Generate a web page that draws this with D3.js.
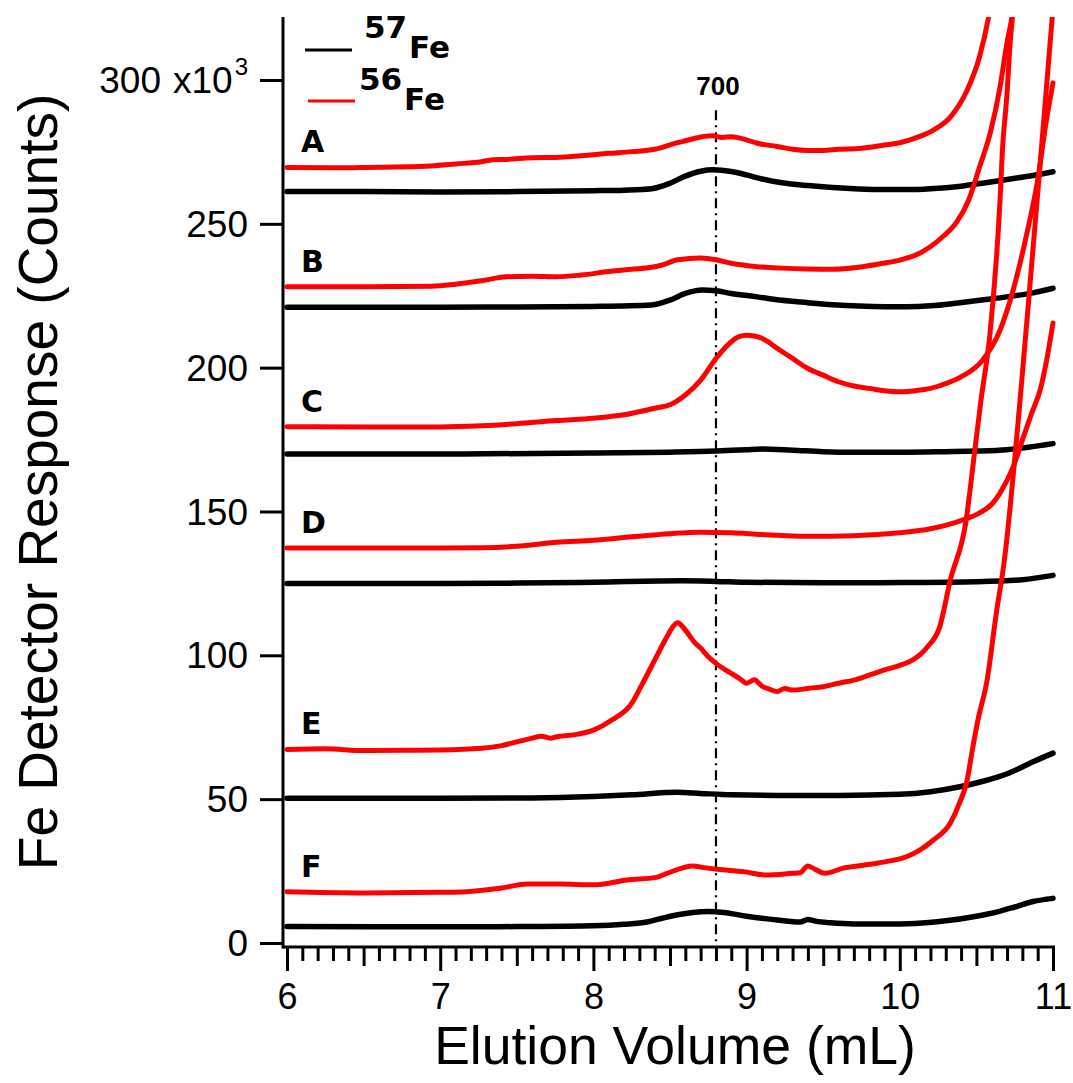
<!DOCTYPE html>
<html>
<head>
<meta charset="utf-8">
<script src="https://cdn.jsdelivr.net/npm/d3@7"></script>
<style>
  html, body { margin: 0; padding: 0; background: #fff; }
  svg { display: block; }
  text { font-family: "Liberation Sans", Arial, Helvetica, sans-serif; fill: #000; }
</style>
</head>
<body>
<svg id="chart" width="1073" height="1083"></svg>
<script>
// Fe chromatograms: elution volume (mL) vs detector counts (x10^3), six samples A–F
const sampleLabels = ["A", "B", "C", "D", "E", "F"];

const a57 = [[6.0,261.2],[6.5,261.2],[7.0,261.1],[7.5,261.2],[8.0,261.5],[8.2,261.7],[8.38,262.2],[8.5,264.1],[8.6,266.6],[8.7,268.3],[8.78,268.8],[8.9,268.2],[9.0,267.0],[9.1,265.6],[9.23,264.3],[9.4,263.3],[9.56,262.6],[9.73,262.1],[9.9,261.9],[10.05,261.9],[10.2,262.2],[10.4,263.1],[10.55,264.2],[10.71,265.5],[10.87,266.8],[11.0,268.1]];
const a56 = [[6.0,269.6],[6.3,269.5],[6.6,269.7],[6.8,269.8],[6.94,270.1],[7.1,270.8],[7.27,271.6],[7.35,272.3],[7.43,272.4],[7.6,273.0],[7.76,273.1],[7.92,273.7],[8.1,274.5],[8.25,275.1],[8.4,275.9],[8.45,276.6],[8.52,277.8],[8.58,278.6],[8.64,279.4],[8.72,280.4],[8.78,280.6],[8.84,280.0],[8.9,280.3],[9.0,279.2],[9.07,278.0],[9.2,276.9],[9.3,275.9],[9.4,275.5],[9.5,275.5],[9.6,275.9],[9.73,276.2],[9.9,277.4],[10.0,278.2],[10.1,279.8],[10.22,282.6],[10.33,287.1],[10.44,296.5],[10.52,308.0],[10.58,322.0],[10.62,335.0]];

const b57 = [[6.0,221.0],[7.0,221.0],[7.5,221.1],[8.0,221.3],[8.38,221.8],[8.5,223.5],[8.6,225.8],[8.71,227.0],[8.8,226.7],[8.9,225.8],[9.07,224.6],[9.23,223.4],[9.4,222.6],[9.56,221.9],[9.73,221.4],[9.9,221.2],[10.05,221.2],[10.2,221.5],[10.38,222.5],[10.55,223.6],[10.71,224.7],[10.87,226.0],[11.0,227.6]];
const b56 = [[6.0,228.1],[6.5,228.1],[6.94,228.3],[7.1,229.0],[7.27,230.2],[7.43,231.6],[7.6,231.8],[7.76,231.6],[7.92,232.2],[8.1,233.4],[8.25,234.2],[8.38,234.9],[8.45,235.7],[8.55,237.5],[8.7,238.1],[8.8,237.5],[8.9,236.3],[9.07,235.1],[9.23,234.6],[9.4,234.3],[9.56,234.2],[9.73,234.9],[9.89,236.3],[10.0,237.4],[10.13,239.8],[10.28,245.5],[10.37,250.5],[10.45,258.3],[10.52,269.7],[10.59,281.5],[10.654,297.5],[10.70,313.0],[10.732,322.0],[10.76,335.0]];

const c57 = [[6.0,170.0],[7.0,170.0],[8.0,170.3],[8.5,170.6],[8.8,171.0],[9.0,171.5],[9.1,171.7],[9.3,171.3],[9.5,170.8],[9.7,170.6],[10.0,170.6],[10.3,170.8],[10.5,171.0],[10.7,171.5],[10.85,172.4],[11.0,173.6]];
const c56 = [[6.0,179.5],[6.5,179.4],[7.0,179.4],[7.27,179.8],[7.5,180.5],[7.76,181.6],[8.0,182.4],[8.2,183.6],[8.4,185.9],[8.5,187.1],[8.6,190.5],[8.7,195.7],[8.8,203.2],[8.9,209.0],[8.95,210.8],[9.0,211.3],[9.05,211.0],[9.1,210.2],[9.2,206.7],[9.3,203.2],[9.4,199.7],[9.5,197.4],[9.6,195.1],[9.7,193.6],[9.8,192.8],[9.9,192.0],[10.0,191.6],[10.1,192.0],[10.2,192.8],[10.3,194.5],[10.4,196.8],[10.54,202.6],[10.654,213.0],[10.74,227.0],[10.83,246.8],[10.896,264.0],[10.96,287.0],[11.0,299.0]];

const d57 = [[6.0,125.0],[7.0,125.0],[7.5,125.1],[8.0,125.4],[8.58,125.9],[8.8,125.7],[9.0,125.4],[9.5,125.2],[10.0,125.3],[10.5,125.6],[10.8,126.3],[11.0,127.8]];
const d56 = [[6.0,137.3],[6.5,137.3],[7.0,137.3],[7.27,137.4],[7.5,137.9],[7.76,139.3],[8.0,140.0],[8.25,141.2],[8.5,142.3],[8.7,142.8],[8.9,142.6],[9.1,142.0],[9.4,141.4],[9.7,141.6],[10.0,142.6],[10.2,144.0],[10.37,146.3],[10.52,149.5],[10.6,152.5],[10.654,156.4],[10.74,165.5],[10.80,174.8],[10.86,184.0],[10.92,193.0],[10.96,203.0],[11.0,215.5]];

const e57 = [[6.0,50.3],[7.0,50.3],[7.6,50.4],[8.0,50.9],[8.25,51.5],[8.55,52.4],[8.7,52.0],[8.9,51.5],[9.2,51.3],[9.6,51.3],[10.0,51.7],[10.2,52.6],[10.4,54.4],[10.55,56.3],[10.71,59.0],[10.87,63.0],[11.0,66.0]];
const e56 = [[6.0,67.3],[6.25,67.5],[6.5,66.9],[6.75,67.0],[7.0,67.1],[7.27,67.7],[7.4,68.6],[7.5,69.9],[7.6,71.2],[7.66,71.9],[7.72,71.2],[7.76,71.7],[7.9,72.6],[8.0,74.0],[8.12,77.5],[8.25,83.3],[8.31,89.1],[8.4,98.3],[8.47,105.5],[8.52,110.0],[8.55,111.3],[8.6,108.8],[8.66,104.5],[8.7,102.5],[8.75,99.5],[8.8,97.2],[8.9,93.7],[8.95,92.1],[9.0,90.3],[9.05,91.5],[9.1,89.3],[9.15,88.2],[9.2,87.4],[9.25,88.5],[9.3,87.9],[9.4,88.5],[9.5,89.1],[9.6,90.3],[9.7,91.4],[9.8,93.1],[9.9,94.9],[10.0,96.5],[10.085,98.4],[10.18,102.9],[10.26,109.8],[10.33,126.2],[10.43,146.0],[10.49,171.4],[10.53,188.7],[10.589,212.0],[10.654,258.0],[10.67,275.6],[10.70,295.4],[10.72,312.8],[10.735,322.0],[10.75,335.0]];

const f57 = [[6.0,5.7],[7.0,5.6],[7.5,5.7],[8.0,6.0],[8.2,6.5],[8.35,7.3],[8.45,8.6],[8.55,9.8],[8.65,10.6],[8.75,10.9],[8.85,10.6],[9.0,9.3],[9.2,8.0],[9.35,7.3],[9.4,8.2],[9.45,7.6],[9.55,7.0],[9.7,6.6],[9.9,6.6],[10.1,6.8],[10.3,7.7],[10.5,9.3],[10.65,11.0],[10.75,12.5],[10.87,14.4],[11.0,15.5]];
const f56 = [[6.0,17.8],[6.5,17.4],[7.0,17.6],[7.17,17.8],[7.39,19.0],[7.57,20.5],[7.78,20.5],[8.0,20.2],[8.22,21.9],[8.41,22.8],[8.48,24.2],[8.65,26.8],[8.72,26.2],[8.81,25.6],[8.98,24.8],[9.13,23.6],[9.3,24.2],[9.35,24.4],[9.4,26.8],[9.45,25.5],[9.51,24.2],[9.63,26.0],[9.85,27.7],[10.07,30.6],[10.13,32.3],[10.22,35.8],[10.33,41.7],[10.39,48.7],[10.44,56.7],[10.47,66.0],[10.51,77.5],[10.57,91.4],[10.63,114.7],[10.68,132.0],[10.785,188.7],[10.85,229.0],[10.915,270.0],[11.0,325.0]];

const iron57 = [a57, b57, c57, d57, e57, f57];
const iron56 = [a56, b56, c56, d56, e56, f56];

const xMajorTicks = [6, 7, 8, 9, 10, 11];
const yTicks = [0, 50, 100, 150, 200, 250, 300];
const markerVolume = 8.8;
const markerLabel = "700";
const markerTop = 289.5;

const svg = d3.select("#chart");
const font = '"Liberation Sans", Arial, Helvetica, sans-serif';
const boldFont = '"DejaVu Sans", Verdana, sans-serif';

// scales: the axis frame runs a little beyond the tick range on every side
const x = d3.scaleLinear().domain([6, 11]).range([287, 1053]);
const y = d3.scaleLinear().domain([-1.4, 321.9]).range([947, 17]);
const frameLeft = 283, frameRight = 1055, frameTop = 17, frameBottom = 947;

svg.append("defs").append("clipPath").attr("id", "plotClip")
  .append("rect").attr("x", frameLeft).attr("y", frameTop)
  .attr("width", frameRight - frameLeft + 4).attr("height", frameBottom - frameTop);

const line = d3.line().x(d => x(d[0])).y(d => y(d[1])).curve(d3.curveMonotoneX);

// vertical marker line (dash-dot)
svg.append("line")
  .attr("x1", x(markerVolume)).attr("x2", x(markerVolume))
  .attr("y1", y(markerTop)).attr("y2", frameBottom)
  .attr("stroke", "#000").attr("stroke-width", 2.2)
  .attr("stroke-dasharray", "10,5,2,5");
svg.append("text")
  .attr("x", x(markerVolume) + 2).attr("y", 95)
  .attr("text-anchor", "middle")
  .attr("font-size", 26).attr("font-weight", "bold")
  .text(markerLabel);

// traces
const traces = svg.append("g").attr("clip-path", "url(#plotClip)");
traces.selectAll("path.fe57").data(iron57).join("path")
  .attr("class", "fe57").attr("d", line)
  .attr("fill", "none").attr("stroke", "#000").attr("stroke-width", 5.5)
  .attr("stroke-linejoin", "round").attr("stroke-linecap", "round");
traces.selectAll("path.fe56").data(iron56).join("path")
  .attr("class", "fe56").attr("d", line)
  .attr("fill", "none").attr("stroke", "#ff0000").attr("stroke-width", 5)
  .attr("stroke-linejoin", "round").attr("stroke-linecap", "round");

// sample letters above each 56Fe trace
svg.selectAll("text.sample").data(sampleLabels).join("text")
  .attr("class", "sample")
  .attr("x", 301)
  .attr("y", (d, i) => y(iron56[i][0][1]) - 15)
  .style("font-family", boldFont)
  .attr("font-size", 30).attr("font-weight", "bold")
  .text(d => d);

// axes
const axisStroke = 3;
const yAxis = d3.axisLeft(y).tickValues(yTicks).tickSize(23).tickPadding(12)
  .tickFormat(d => d === 300 ? "300" : String(d));
const gy = svg.append("g").attr("transform", `translate(${frameLeft},0)`).call(yAxis);
gy.select(".domain").remove();
gy.selectAll(".tick line").attr("stroke", "#000").attr("stroke-width", axisStroke);
gy.selectAll(".tick text").attr("font-family", font).attr("font-size", 37)
  .attr("dy", "0.34em");
const topLabel = gy.selectAll(".tick text").filter(d => d === 300);
topLabel.append("tspan").attr("dx", 12).text("x10");
topLabel.append("tspan").attr("dx", 2).attr("dy", "-0.75em").attr("font-size", 24).text("3");

const xAxis = d3.axisBottom(x).tickValues(xMajorTicks).tickSize(24).tickPadding(12)
  .tickFormat(d3.format("d"));
const gx = svg.append("g").attr("transform", `translate(0,${frameBottom})`).call(xAxis);
gx.select(".domain").remove();
gx.selectAll(".tick line").attr("stroke", "#000").attr("stroke-width", axisStroke);
gx.selectAll(".tick text").attr("font-family", font).attr("font-size", 36);

const minorTicks = d3.range(60, 111).map(v => v / 10).filter(v => Math.abs(v - Math.round(v)) > 1e-6);
const gxm = svg.append("g").attr("transform", `translate(0,${frameBottom})`)
  .call(d3.axisBottom(x).tickValues(minorTicks).tickSize(14).tickFormat(""));
gxm.select(".domain").remove();
gxm.selectAll(".tick line").attr("stroke", "#000").attr("stroke-width", axisStroke)
  .attr("y2", d => Math.abs(d * 2 - Math.round(d * 2)) < 1e-6 ? 19 : 14);

// frame lines
svg.append("line").attr("x1", frameLeft).attr("x2", frameLeft)
  .attr("y1", frameTop).attr("y2", frameBottom + axisStroke / 2)
  .attr("stroke", "#000").attr("stroke-width", axisStroke);
svg.append("line").attr("x1", frameLeft).attr("x2", frameRight)
  .attr("y1", frameBottom).attr("y2", frameBottom)
  .attr("stroke", "#000").attr("stroke-width", axisStroke);

// axis titles
svg.append("text").attr("x", 675).attr("y", 1064)
  .attr("text-anchor", "middle").attr("font-size", 53.5)
  .text("Elution Volume (mL)");
svg.append("text").attr("transform", "translate(57,482) rotate(-90)")
  .attr("text-anchor", "middle").attr("font-size", 55)
  .text("Fe Detector Response (Counts)");

// legend
const legend = svg.append("g");
const legendItems = [
  { mass: "57", color: "#000", lx1: 305, lx2: 352, ly: 50, mx: 364, my: 38, ex: 409, ey: 58 },
  { mass: "56", color: "#ff0000", lx1: 308, lx2: 355, ly: 101, mx: 359, my: 90, ex: 404, ey: 110 }
];
legendItems.forEach(it => {
  legend.append("line").attr("x1", it.lx1).attr("x2", it.lx2)
    .attr("y1", it.ly).attr("y2", it.ly)
    .attr("stroke", it.color).attr("stroke-width", 3);
  legend.append("text").attr("x", it.mx).attr("y", it.my)
    .style("font-family", boldFont)
    .attr("font-size", 31).attr("font-weight", "bold").text(it.mass);
  legend.append("text").attr("x", it.ex).attr("y", it.ey)
    .style("font-family", boldFont)
    .attr("font-size", 31).attr("font-weight", "bold").text("Fe");
});
</script>
</body>
</html>
